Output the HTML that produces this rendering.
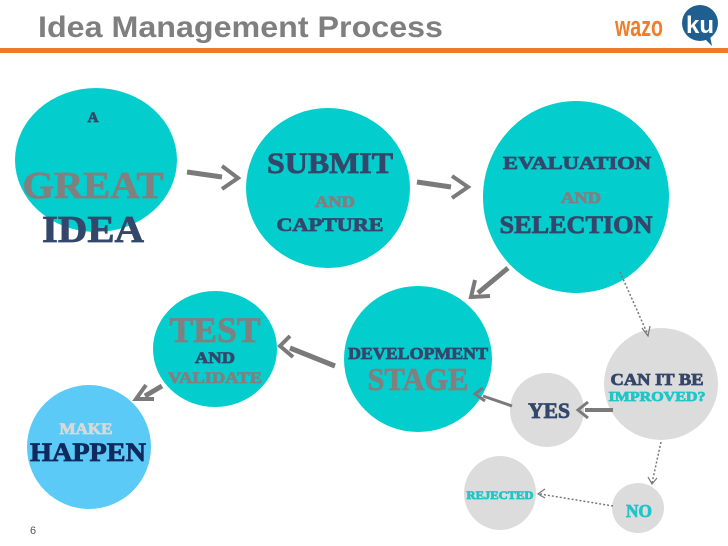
<!DOCTYPE html>
<html><head><meta charset="utf-8"><style>
html,body{margin:0;padding:0;background:#fff;width:728px;height:546px;overflow:hidden}
svg text{font-family:"Liberation Serif",serif;font-weight:bold;text-anchor:middle}
.h{stroke-width:0.8}
</style></head><body>
<svg width="728" height="546" viewBox="0 0 728 546" xmlns="http://www.w3.org/2000/svg">
<text x="38" y="37" style="font-family:'Liberation Sans',sans-serif;text-anchor:start;font-weight:bold" font-size="30" fill="#7f7f7f" textLength="405" lengthAdjust="spacingAndGlyphs">Idea Management Process</text>
<rect x="0" y="48" width="728" height="5" fill="#f07a2a"/>
<text x="639" y="36" style="font-family:'Liberation Sans',sans-serif" font-size="29" fill="#ef7d2a" textLength="48" lengthAdjust="spacingAndGlyphs">wazo</text>
<circle cx="700" cy="23" r="18" fill="#1f5f8f"/>
<path d="M704 38 L712 46 L710 36Z" fill="#1f5f8f"/>
<text x="700" y="33" style="font-family:'Liberation Sans',sans-serif" font-size="24" fill="#fff">ku</text>

<g fill="#04cdcd">
<ellipse cx="96" cy="160" rx="81" ry="72"/>
<ellipse cx="328" cy="188" rx="82" ry="80"/>
<ellipse cx="576" cy="197" rx="93" ry="96"/>
<ellipse cx="215" cy="349" rx="62" ry="58"/>
<ellipse cx="418" cy="359" rx="74" ry="73"/>
</g>
<ellipse cx="89" cy="447" rx="62" ry="62" fill="#5ccaf6"/>
<g fill="#dcdcdc">
<ellipse cx="661" cy="384" rx="57" ry="56"/>
<ellipse cx="547" cy="410" rx="37" ry="37"/>
<ellipse cx="500" cy="493" rx="36" ry="37"/>
<ellipse cx="638" cy="508" rx="26" ry="25"/>
</g>

<g stroke="#7a7a7a" fill="none" stroke-linecap="butt">
<line x1="187" y1="172" x2="222" y2="177" stroke-width="5"/>
<polyline points="222,166 238,178 222,189" stroke-width="4"/>
<line x1="417" y1="182" x2="451" y2="187" stroke-width="5"/>
<polyline points="452,176 468,187 452,198" stroke-width="4"/>
<line x1="508" y1="268" x2="478" y2="293" stroke-width="5"/>
<polyline points="475,280 471,297 490,296" stroke-width="4"/>
<line x1="335" y1="366" x2="290" y2="348" stroke-width="5"/>
<polyline points="290,336 280,346 293,357" stroke-width="4"/>
<line x1="162" y1="386" x2="145" y2="396" stroke-width="5"/>
<polyline points="146,385 136,399 154,399" stroke-width="4"/>
<line x1="512" y1="406" x2="483" y2="396" stroke-width="3"/>
<polyline points="483,388 475,394 485,401" stroke-width="3"/>
<line x1="613" y1="410" x2="585" y2="410" stroke-width="4"/>
<polyline points="588,402 578,410 588,418" stroke-width="3"/>
</g>
<g stroke="#777" fill="none" stroke-width="1.5" stroke-dasharray="2,2">
<line x1="620" y1="272" x2="648" y2="335"/>
<line x1="661" y1="442" x2="652" y2="483"/>
<line x1="613" y1="506" x2="540" y2="494"/>
</g>
<g stroke="#777" fill="none" stroke-width="1.2">
<polyline points="642,328 648,336 650,326"/>
<polyline points="648,477 652,484 657,478"/>
<polyline points="545,489 538,494 545,498"/>
</g>

<text class="h" stroke="#34476a" x="93" y="122" font-size="15" fill="#34476a">A</text>
<text class="h" stroke="#808080" x="93" y="198" font-size="38" fill="#808080" textLength="141" lengthAdjust="spacingAndGlyphs">GREAT</text>
<text class="h" stroke="#34476a" x="93" y="242" font-size="38" fill="#34476a" textLength="102" lengthAdjust="spacingAndGlyphs">IDEA</text>

<text class="h" stroke="#34476a" x="330" y="173" font-size="30" fill="#34476a" textLength="126" lengthAdjust="spacingAndGlyphs">SUBMIT</text>
<text class="h" stroke="#808080" x="335" y="207" font-size="16" fill="#808080" textLength="40" lengthAdjust="spacingAndGlyphs">AND</text>
<text class="h" stroke="#34476a" x="330" y="231" font-size="19" fill="#34476a" textLength="107" lengthAdjust="spacingAndGlyphs">CAPTURE</text>

<text class="h" stroke="#34476a" x="577" y="169" font-size="18" fill="#34476a" textLength="148" lengthAdjust="spacingAndGlyphs">EVALUATION</text>
<text class="h" stroke="#808080" x="581" y="203" font-size="16" fill="#808080" textLength="40" lengthAdjust="spacingAndGlyphs">AND</text>
<text class="h" stroke="#34476a" x="576" y="233" font-size="25" fill="#34476a" textLength="153" lengthAdjust="spacingAndGlyphs">SELECTION</text>

<text class="h" stroke="#808080" x="215" y="342" font-size="36" fill="#808080" textLength="91" lengthAdjust="spacingAndGlyphs">TEST</text>
<text class="h" stroke="#34476a" x="215" y="363" font-size="16" fill="#34476a" textLength="40" lengthAdjust="spacingAndGlyphs">AND</text>
<text class="h" stroke="#808080" x="215" y="383" font-size="16" fill="#808080" textLength="94" lengthAdjust="spacingAndGlyphs">VALIDATE</text>

<text class="h" stroke="#34476a" x="418" y="359" font-size="17" fill="#34476a" textLength="140" lengthAdjust="spacingAndGlyphs">DEVELOPMENT</text>
<text class="h" stroke="#808080" x="418" y="390" font-size="32" fill="#808080" textLength="101" lengthAdjust="spacingAndGlyphs">STAGE</text>

<text class="h" stroke="#d8d8d8" x="86" y="434" font-size="16" fill="#d8d8d8" textLength="53" lengthAdjust="spacingAndGlyphs">MAKE</text>
<text class="h" stroke="#102a5e" x="88" y="461" font-size="26" fill="#102a5e" textLength="116" lengthAdjust="spacingAndGlyphs">HAPPEN</text>

<text class="h" stroke="#34476a" x="657" y="385" font-size="17" fill="#34476a" textLength="93" lengthAdjust="spacingAndGlyphs">CAN IT BE</text>
<text class="h" stroke="#1ec6c8" x="657" y="401" font-size="14" fill="#1ec6c8" textLength="97" lengthAdjust="spacingAndGlyphs">IMPROVED?</text>
<text class="h" stroke="#34476a" x="549" y="418" font-size="22" fill="#34476a" textLength="42" lengthAdjust="spacingAndGlyphs">YES</text>
<text class="h" stroke="#1ec6c8" x="500" y="499" font-size="12" fill="#1ec6c8" textLength="67" lengthAdjust="spacingAndGlyphs">REJECTED</text>
<text class="h" stroke="#1ec6c8" x="639" y="517" font-size="18" fill="#1ec6c8" textLength="26" lengthAdjust="spacingAndGlyphs">NO</text>

<text x="33" y="534" style="font-family:'Liberation Sans',sans-serif;font-weight:normal" font-size="11" fill="#555">6</text>
</svg>
</body></html>
